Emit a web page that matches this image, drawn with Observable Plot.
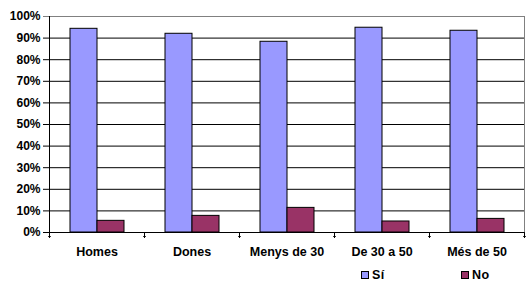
<!DOCTYPE html>
<html>
<head>
<meta charset="utf-8">
<script src="https://cdn.jsdelivr.net/npm/d3@7"></script>
<script src="https://cdn.jsdelivr.net/npm/@observablehq/plot@0.6"></script>
<style>
  html, body { margin: 0; padding: 0; background: white; }
  #chart { width: 530px; font-family: "Liberation Sans", Arial, sans-serif; }
  .legend { position: relative; height: 26px; font-size: 12.5px; font-weight: bold; letter-spacing: 0.4px; }
  .item { position: absolute; top: 6px; display: flex; align-items: center; }
  .sw { width: 6px; height: 6px; border: 1px solid #000; margin-right: 3px; }
</style>
</head>
<body>
<div id="chart"></div>
<script>
const categories = ["Homes", "Dones", "Menys de 30", "De 30 a 50", "Més de 50"];
const series = ["Sí", "No"];
const siValues = [0.943, 0.920, 0.883, 0.948, 0.934];
const noValues = [0.054, 0.077, 0.114, 0.051, 0.063];
const yTicks = [0, 0.1, 0.2, 0.3, 0.4, 0.5, 0.6, 0.7, 0.8, 0.9, 1];
const colors = ["#9999FF", "#993366"];

const data = categories.flatMap((c, i) => [
  {cat: c, serie: series[0], value: siValues[i]},
  {cat: c, serie: series[1], value: noValues[i]}
]);

const plot = Plot.plot({
  width: 530,
  height: 262,
  marginLeft: 48,
  marginRight: 5,
  marginTop: 16,
  marginBottom: 30,
  style: {fontFamily: "'Liberation Sans', Arial, sans-serif", fontSize: "12px", fontWeight: "bold", background: "white", color: "black"},
  fx: {domain: categories, padding: 0, label: null},
  x: {domain: series, paddingInner: 0, paddingOuter: 0.735, axis: null},
  y: {domain: [0, 1], label: null},
  color: {domain: series, range: colors},
  marks: [
    Plot.ruleY(yTicks.filter(d => d > 0 && d < 1), {stroke: "black", strokeOpacity: 1}),
    Plot.ruleY([1], {stroke: "#808080"}),
    Plot.frame({anchor: "right", stroke: "#808080", facetAnchor: "right"}),
    Plot.barY(data, {fx: "cat", x: "serie", y: "value", fill: "serie", stroke: "black", strokeWidth: 1}),
    Plot.ruleY([0], {stroke: "black"}),
    Plot.frame({anchor: "left", stroke: "black", facetAnchor: "left"}),
    Plot.vector([0], {frameAnchor: "bottom-left", length: 5, rotate: 180, anchor: "start", stroke: "black", strokeWidth: 1}),
    Plot.vector([0], {frameAnchor: "bottom-right", length: 5, rotate: 180, anchor: "start", stroke: "black", strokeWidth: 1, facetAnchor: "right"}),
    Plot.axisY({ticks: yTicks.filter(d => d < 1), tickFormat: d3.format(".0%"), tickSize: 6, tickPadding: 3, stroke: "black", fill: "black", label: null}),
    Plot.axisY({ticks: [1], tickFormat: d3.format(".0%"), tickSize: 6, tickPadding: 3, stroke: "#808080", fill: "black", label: null}),
    Plot.axisFx({anchor: "bottom", tickSize: 0, tickPadding: 15, fill: "black", label: null, fontSize: 12.5, style: {letterSpacing: "0.4px"}})
  ]
});

const chart = document.getElementById("chart");
chart.appendChild(plot);

const legend = document.createElement("div");
legend.className = "legend";
const lefts = [361, 461];
series.forEach((s, i) => {
  const it = document.createElement("div");
  it.className = "item";
  it.style.left = lefts[i] + "px";
  const sw = document.createElement("span");
  sw.className = "sw";
  sw.style.background = colors[i];
  const t = document.createElement("span");
  t.textContent = s;
  it.appendChild(sw);
  it.appendChild(t);
  legend.appendChild(it);
});
chart.appendChild(legend);
</script>
</body>
</html>
